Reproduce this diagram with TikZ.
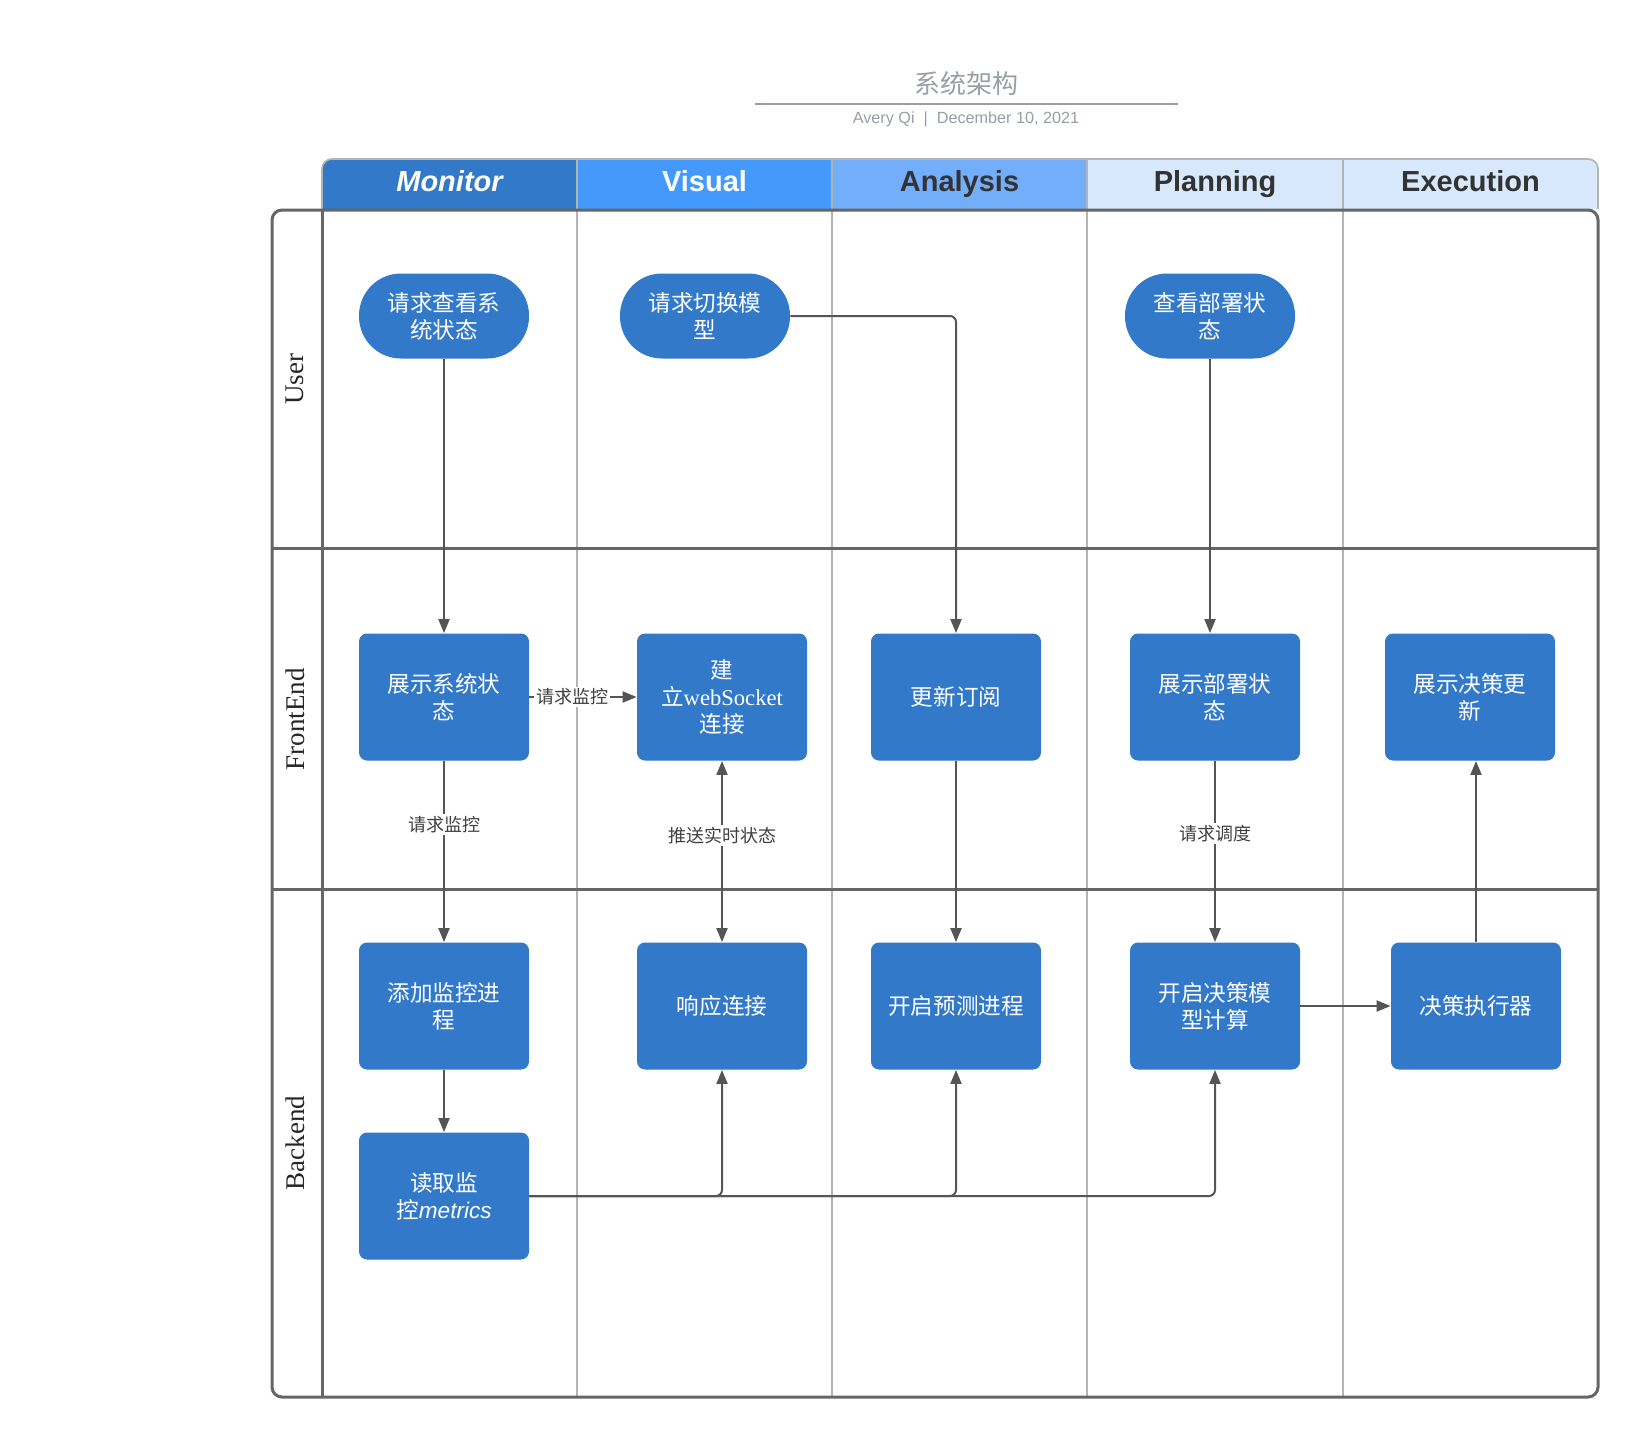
\documentclass[tikz,border=0pt]{standalone}
\usepackage{fontspec}
\setmainfont{Noto Sans CJK SC}
\newfontfamily\lsans{Liberation Sans}
\newfontfamily\lserif{Liberation Serif}
\usetikzlibrary{arrows.meta}
\definecolor{nodeblue}{HTML}{3279C9}
\definecolor{hmon}{HTML}{3279C9}
\definecolor{hvis}{HTML}{4499FC}
\definecolor{hana}{HTML}{72AEFA}
\definecolor{hpla}{HTML}{D8E8FD}
\definecolor{framegray}{HTML}{666666}
\definecolor{colgray}{HTML}{B4B4B4}
\definecolor{edgegray}{HTML}{555555}
\definecolor{titlegray}{HTML}{9A9EA6}
\tikzset{
  term/.style={fill=nodeblue, text=white, rectangle, rounded corners=21pt, minimum width=85pt, minimum height=42.5pt, align=center, font=\fontsize{11.3pt}{13.5pt}\selectfont, inner sep=2pt},
  proc/.style={fill=nodeblue, text=white, rectangle, rounded corners=4pt, minimum width=85pt, minimum height=63.5pt, align=center, font=\fontsize{11.3pt}{13.5pt}\selectfont, inner sep=2pt},
  arr/.style={draw=edgegray, line width=1pt, -{Triangle[length=7pt,width=5.5pt]}},
  elabel/.style={fill=white, text=black!75, font=\fontsize{9pt}{10pt}\selectfont, inner sep=1pt},
  lane/.style={rotate=90, font=\lserif\fontsize{13.5pt}{15pt}\selectfont, text=black!85},
  hdr/.style={anchor=base, font=\lsans\bfseries\fontsize{14.5pt}{16pt}\selectfont},
  framel/.style={draw=framegray, line width=1.5pt},
  coll/.style={draw=colgray, line width=0.8pt}
}
\begin{document}
\begin{tikzpicture}[x=0.5pt,y=-0.5pt]
\useasboundingbox[fill=white] (0,0) rectangle (1641,1440);
% title
\node[text=titlegray, font=\fontsize{13pt}{15pt}\selectfont] (title) at (966,84) {系统架构};
\draw[draw=titlegray, line width=1pt] (755,104) -- (1178,104);
\node[text=titlegray, font=\lsans\fontsize{8.1pt}{9pt}\selectfont] (sub) at (966,119) {Avery Qi\ \ |\ \ December 10, 2021};
% header
\begin{scope}
\clip[rounded corners=5pt] (322,159) rectangle (1598,240);
\fill[hmon] (322,159) rectangle (577,209);
\fill[hvis] (577,159) rectangle (832,209);
\fill[hana] (832,159) rectangle (1087,209);
\fill[hpla] (1087,159) rectangle (1598,209);
\end{scope}
\draw[draw=colgray, line width=0.8pt, rounded corners=5pt] (322,209) -- (322,159) -- (1598,159) -- (1598,209);
\foreach \xx in {577,832,1087,1343} \draw[coll] (\xx,159) -- (\xx,209);
\node[hdr, text=white, font=\lsans\bfseries\itshape\fontsize{14.5pt}{16pt}\selectfont] (hm) at (449.5,191) {Monitor};
\node[hdr, text=white] (hv) at (704.5,191) {Visual};
\node[hdr, text=black!80] (ha) at (959.5,191) {Analysis};
\node[hdr, text=black!80] (hp) at (1215,191) {Planning};
\node[hdr, text=black!80] (he) at (1470.5,191) {Execution};
% grid
\foreach \xx in {577,832,1087,1343} \draw[coll] (\xx,210) -- (\xx,1397);
\draw[framel, rounded corners=5pt] (272,210) rectangle (1598,1397);
\draw[framel] (322,210) -- (322,1397);
\draw[framel] (272,548) -- (1598,548);
\draw[framel] (272,889) -- (1598,889);
\node[lane] (lu) at (295,379) {User};
\node[lane] (lf) at (295,719) {FrontEnd};
\node[lane] (lb) at (295,1143) {Backend};
% nodes
\node[term] (t1) at (444,316) {请求查看系\\统状态};
\node[term] (t2) at (705,316) {请求切换模\\型};
\node[term] (t3) at (1210,316) {查看部署状\\态};
\node[proc] (f1) at (444,697) {展示系统状\\态};
\node[proc] (f2) at (722,697) {建\\立{\lserif webSocket}\\连接};
\node[proc] (f3) at (956,697) {更新订阅};
\node[proc] (f4) at (1215,697) {展示部署状\\态};
\node[proc] (f5) at (1470,697) {展示决策更\\新};
\node[proc] (b1) at (444,1006) {添加监控进\\程};
\node[proc] (b2) at (722,1006) {响应连接};
\node[proc] (b3) at (956,1006) {开启预测进程};
\node[proc] (b4) at (1215,1006) {开启决策模\\型计算};
\node[proc] (b5) at (1476,1006) {决策执行器};
\node[proc] (b6) at (444,1196) {读取监\\控{\lsans\itshape metrics}};
% edges
\draw[arr] (t1) -- (f1);
\draw[arr, rounded corners=3pt] (t2.east) -| (f3.north);
\draw[arr] (t3.south) -- (t3.south |- f4.north);
\draw[arr] (f1.east) -- node[elabel, pos=0.4] (l1) {请求监控} (f2.west);
\draw[arr] (f1) -- node[elabel, pos=0.35] (l2) {请求监控} (b1);
\draw[arr, {Triangle[length=7pt,width=5.5pt]}-{Triangle[length=7pt,width=5.5pt]}] (f2) -- node[elabel, pos=0.41] (l3) {推送实时状态} (b2);
\draw[arr] (f3) -- (b3);
\draw[arr] (f4) -- node[elabel, pos=0.40] (l4) {请求调度} (b4);
\draw[arr] (b4.east) -- (b4.east -| b5.west);
\draw[arr] (b5.north) -- (b5.north |- f5.south);
\draw[arr] (b1) -- (b6);
\draw[arr, rounded corners=3pt] (b6.east) -| (b2.south);
\draw[arr, rounded corners=3pt] (b6.east) -| (b3.south);
\draw[arr, rounded corners=3pt] (b6.east) -| (b4.south);
\end{tikzpicture}
\end{document}
